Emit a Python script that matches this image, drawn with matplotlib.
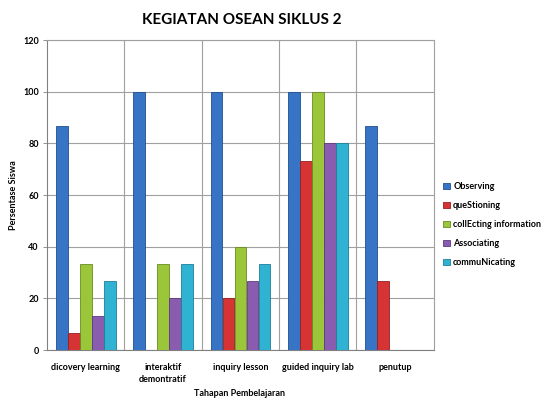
import matplotlib
matplotlib.use("Agg")
import matplotlib.pyplot as plt
import numpy as np

categories = ["dicovery learning", "interaktif\ndemontratif", "inquiry lesson", "guided inquiry lab", "penutup"]
series_names = ["Observing", "queStioning", "collEcting information", "Associating", "commuNicating"]
observing = [86.67, 100, 100, 100, 86.67]
questioning = [6.67, 0, 20, 73.33, 26.67]
collecting = [33.33, 33.33, 40, 100, 0]
associating = [13.33, 20, 26.67, 80, 0]
communicating = [26.67, 33.33, 33.33, 80, 0]
yticks = [0, 20, 40, 60, 80, 100, 120]

series = [observing, questioning, collecting, associating, communicating]
colors = ["#3874C6", "#D63434", "#9CC63A", "#8A5CB0", "#30B2D2"]
edges = ["#1F4F8F", "#962020", "#6A8A22", "#5E3A80", "#1D7F98"]

plt.rcParams['font.family'] = ['Lato', 'DejaVu Sans']
fig = plt.figure(figsize=(5.41, 4.01), dpi=100)
ax = fig.add_axes([0.0869, 0.127, 0.715, 0.773])

x = np.arange(len(categories))
w = 0.155
for i, (vals, name) in enumerate(zip(series, series_names)):
    ax.bar(x - 2 * w + i * w, vals, width=w * 0.98, color=colors[i], edgecolor=edges[i],
           linewidth=0.6, label=name, zorder=3)

ax.set_xlim(-0.5, len(categories) - 0.5)
ax.set_ylim(0, 120)
ax.set_yticks(yticks)
ax.set_yticklabels([str(v) for v in yticks], fontsize=6.5, fontweight='bold')
ax.set_xticks(x)
ax.set_xticklabels(categories, fontsize=6.5, fontweight='bold', linespacing=1.5)
ax.tick_params(axis='x', length=0, pad=9)
ax.tick_params(axis='y', length=3, width=0.6, color='#808080', pad=3)
ax.yaxis.grid(True, color='#A0A0A0', linewidth=0.8, zorder=0)
for b in np.arange(0.5, len(categories) - 0.5, 1.0):
    ax.axvline(b, color='#A0A0A0', linewidth=0.8, zorder=0)
for s in ['top', 'right']:
    ax.spines[s].set_color('#A0A0A0')
    ax.spines[s].set_linewidth(0.8)
for s in ['left', 'bottom']:
    ax.spines[s].set_color('#808080')
    ax.spines[s].set_linewidth(0.8)

fig.text(14 / 541, 1 - 195 / 401, "Persentase Siswa", rotation=90, ha='center', va='center',
         fontsize=6.5, fontweight='bold')
fig.text(240 / 541, 1 - 394 / 401, "Tahapan Pembelajaran", ha='center', va='center',
         fontsize=6.5, fontweight='bold')
fig.text(0.447, 1 - 20 / 401, "KEGIATAN OSEAN SIKLUS 2", ha='center', va='center', fontsize=11, fontweight='bold')

leg = ax.legend(loc='center left', bbox_to_anchor=(1.015, 0.405), frameon=False,
                prop={'size': 6.5, 'weight': 'bold'}, handlelength=0.7, handleheight=0.7,
                handletextpad=0.4, labelspacing=1.1, borderaxespad=0)

fig.savefig("out.png", dpi=100)
